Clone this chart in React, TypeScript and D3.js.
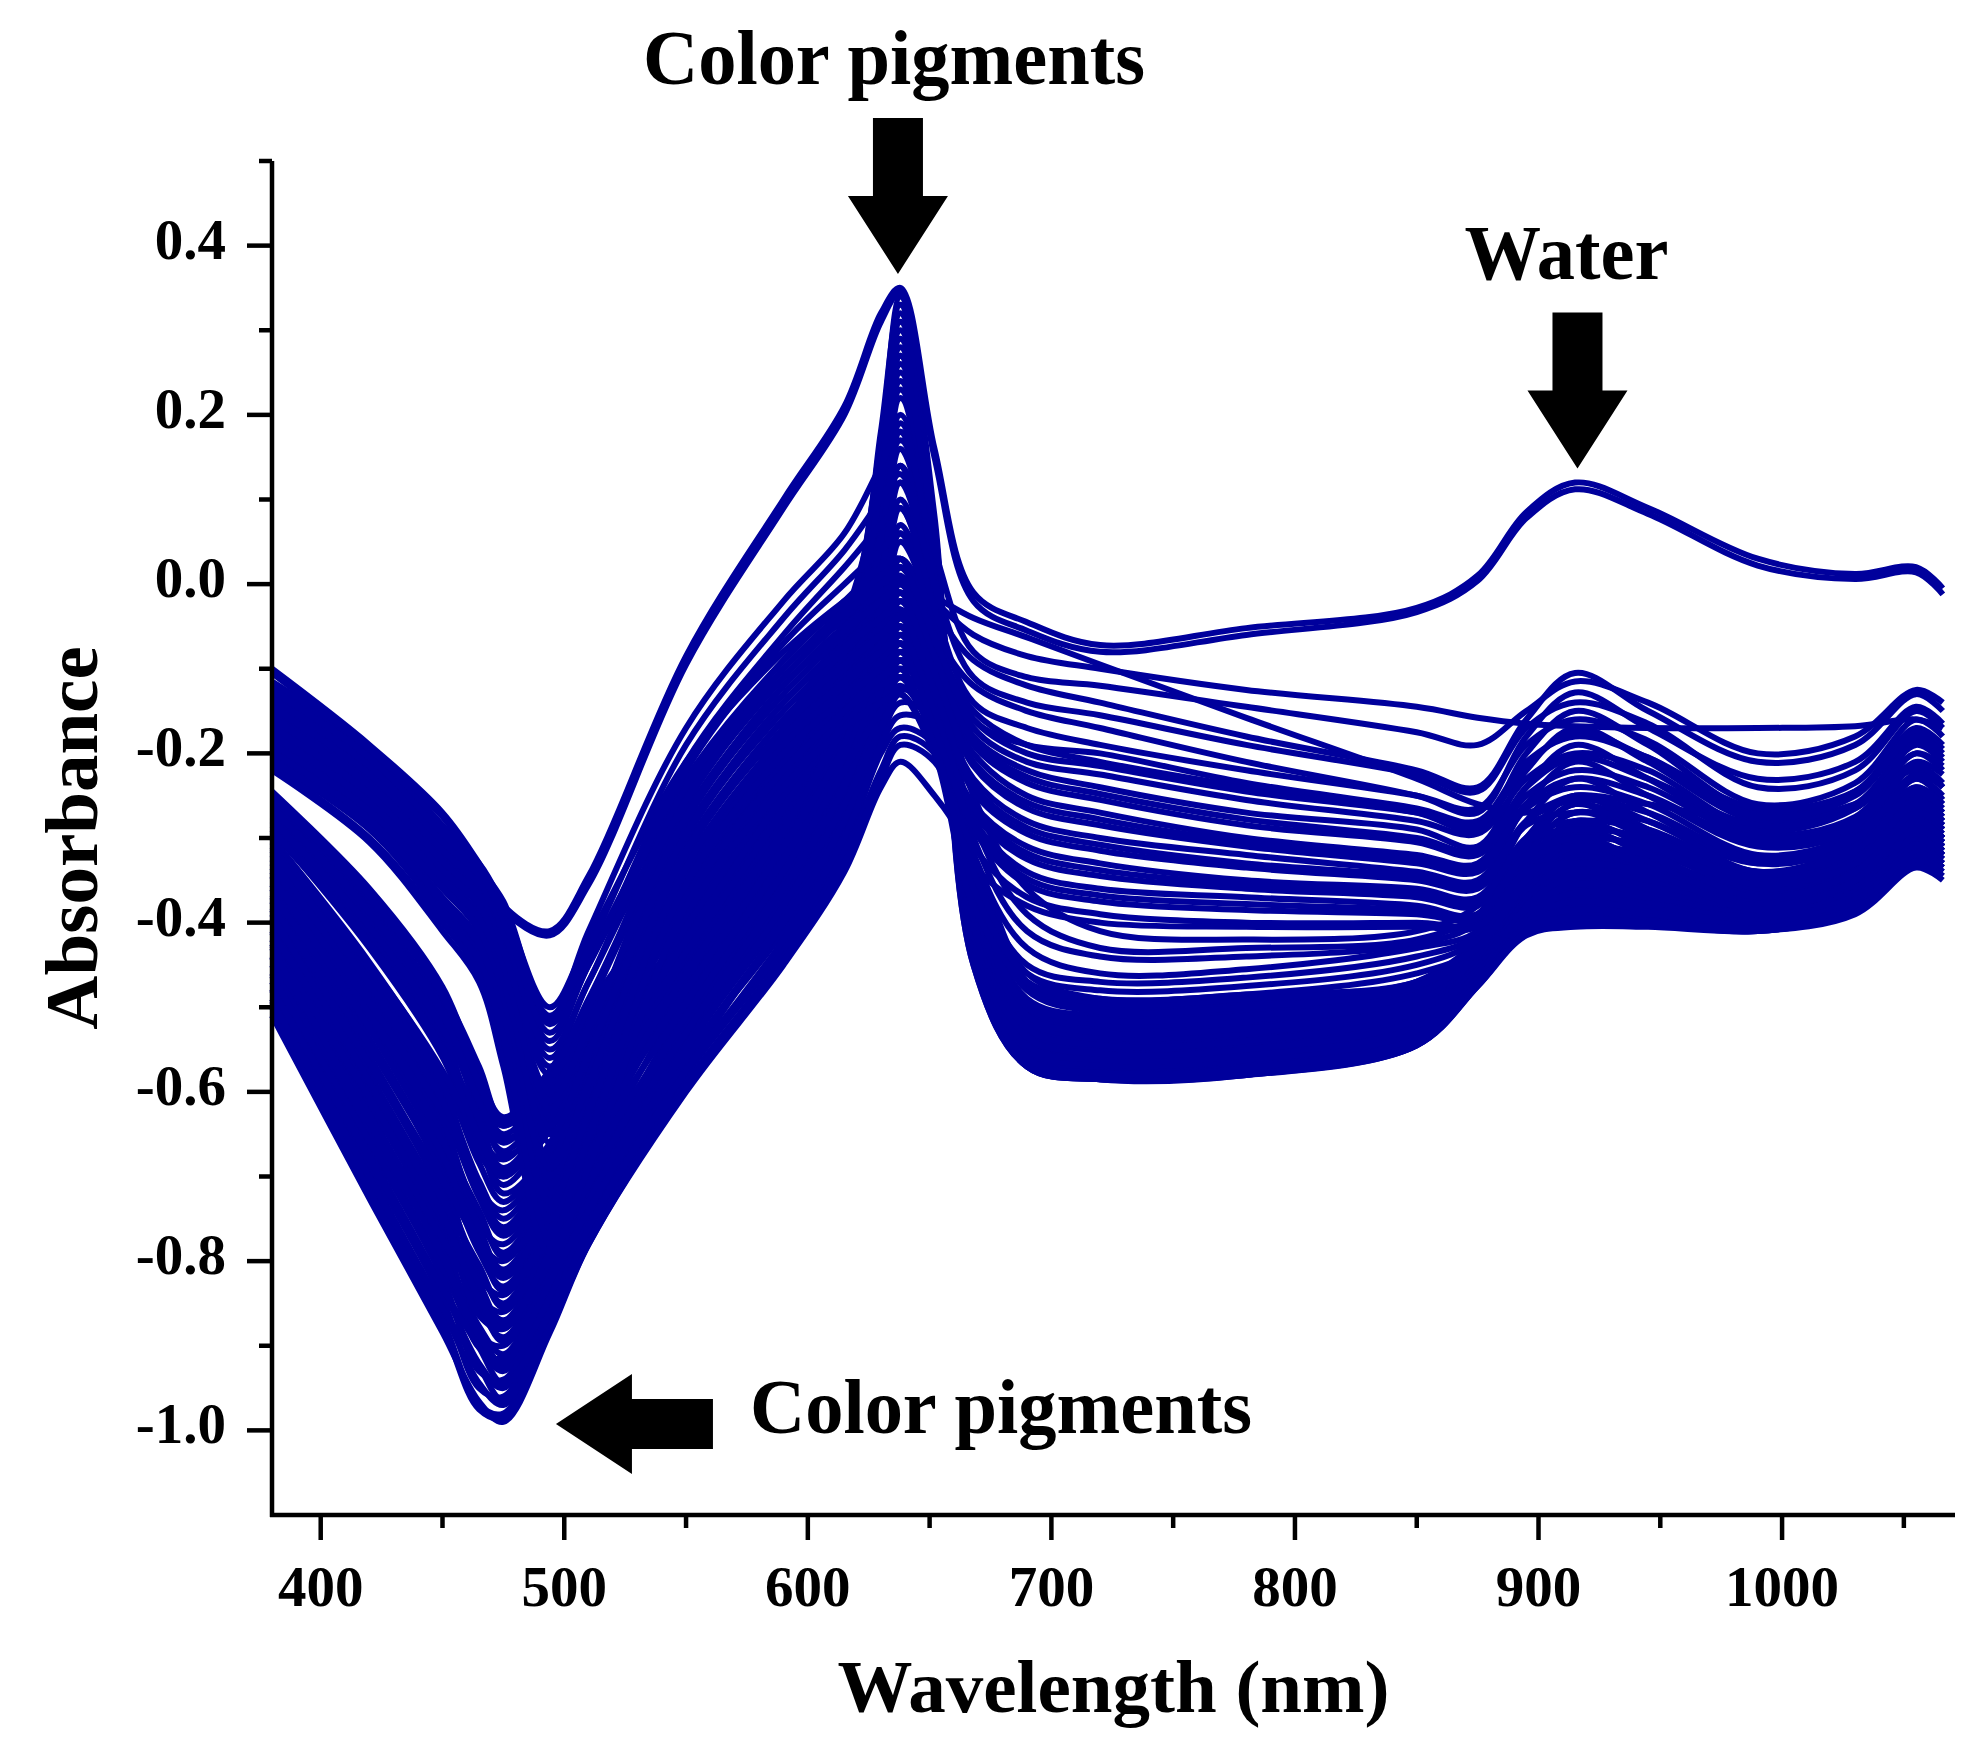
import React from 'react';
import * as d3 from 'd3';

// sampling wavelengths (nm) shared by every spectrum
const wavelengths = [380, 420, 450, 465, 475, 494, 510, 550, 590, 615, 630, 638, 652, 668, 690, 720, 780, 850, 875, 895, 915, 945, 990, 1030, 1055, 1066];

// the two spectra with the strong water band
const waterSpectra = [
  [-0.10, -0.19, -0.27, -0.33, -0.38, -0.41, -0.345, -0.085, 0.10, 0.21, 0.32, 0.35, 0.16, -0.01, -0.045, -0.072, -0.052, -0.028, 0.01, 0.085, 0.12, 0.09, 0.03, 0.012, 0.02, -0.005],
  [-0.105, -0.195, -0.275, -0.335, -0.385, -0.415, -0.355, -0.095, 0.09, 0.2, 0.31, 0.345, 0.15, -0.02, -0.055, -0.08, -0.06, -0.033, 0.004, 0.078, 0.112, 0.083, 0.022, 0.006, 0.014, -0.012],
];

// upper band at the blue end
const upperSpectra = [
  [-0.12, -0.20, -0.29, -0.33, -0.38, -0.50, -0.42, -0.21, -0.08, -0.02, 0.01, 0.02, -0.02, -0.06, -0.085, -0.10, -0.125, -0.145, -0.158, -0.165, -0.168, -0.17, -0.17, -0.168, -0.16, -0.17],
  [-0.13, -0.21, -0.30, -0.34, -0.39, -0.52, -0.44, -0.23, -0.09, -0.025, 0.0, 0.005, -0.015, -0.04, -0.063, -0.095, -0.158, -0.23, -0.26, -0.27, -0.25, -0.26, -0.28, -0.26, -0.22, -0.24],
  [-0.14, -0.22, -0.31, -0.35, -0.41, -0.54, -0.45, -0.24, -0.10, -0.03, 0.01, 0.03, -0.03, -0.09, -0.12, -0.14, -0.18, -0.22, -0.24, -0.16, -0.105, -0.15, -0.21, -0.19, -0.13, -0.15],
  [-0.15, -0.23, -0.32, -0.36, -0.42, -0.56, -0.47, -0.25, -0.11, -0.04, -0.01, 0.0, -0.06, -0.12, -0.15, -0.17, -0.21, -0.25, -0.27, -0.18, -0.128, -0.17, -0.23, -0.21, -0.145, -0.165],
  [-0.16, -0.24, -0.33, -0.37, -0.44, -0.60, -0.50, -0.27, -0.12, -0.05, -0.02, -0.01, -0.07, -0.15, -0.19, -0.21, -0.24, -0.27, -0.29, -0.20, -0.15, -0.19, -0.27, -0.245, -0.17, -0.19],
  [-0.17, -0.25, -0.34, -0.38, -0.46, -0.64, -0.53, -0.29, -0.14, -0.07, -0.04, -0.03, -0.09, -0.18, -0.22, -0.24, -0.27, -0.29, -0.31, -0.22, -0.17, -0.21, -0.28, -0.26, -0.185, -0.205],
  [-0.18, -0.26, -0.35, -0.40, -0.48, -0.68, -0.56, -0.31, -0.16, -0.09, -0.06, -0.05, -0.11, -0.20, -0.25, -0.27, -0.30, -0.32, -0.33, -0.24, -0.19, -0.23, -0.295, -0.275, -0.20, -0.22],
  [-0.19, -0.27, -0.36, -0.41, -0.50, -0.71, -0.59, -0.33, -0.18, -0.11, -0.08, -0.07, -0.13, -0.23, -0.28, -0.30, -0.32, -0.34, -0.35, -0.26, -0.21, -0.25, -0.31, -0.29, -0.215, -0.24],
  [-0.20, -0.28, -0.38, -0.43, -0.52, -0.74, -0.62, -0.35, -0.20, -0.13, -0.10, -0.09, -0.16, -0.26, -0.31, -0.33, -0.35, -0.36, -0.37, -0.28, -0.23, -0.27, -0.33, -0.305, -0.23, -0.255],
  [-0.21, -0.29, -0.39, -0.45, -0.54, -0.76, -0.64, -0.37, -0.22, -0.15, -0.12, -0.11, -0.18, -0.28, -0.34, -0.36, -0.37, -0.38, -0.39, -0.30, -0.25, -0.29, -0.345, -0.32, -0.25, -0.27],
  [-0.215, -0.30, -0.40, -0.46, -0.56, -0.78, -0.66, -0.39, -0.24, -0.17, -0.14, -0.13, -0.20, -0.31, -0.37, -0.39, -0.40, -0.40, -0.40, -0.31, -0.26, -0.30, -0.36, -0.33, -0.265, -0.285],
];

// more spectra of the upper band (higher peaks, middle stripes)
const upperSpectra2 = [
  [-0.115, -0.195, -0.285, -0.335, -0.375, -0.515, -0.41, -0.17, -0.02, 0.06, 0.14, 0.18, 0.04, -0.08, -0.11, -0.12, -0.145, -0.175, -0.19, -0.15, -0.115, -0.14, -0.20, -0.18, -0.125, -0.14],
  [-0.125, -0.205, -0.295, -0.34, -0.385, -0.51, -0.43, -0.19, -0.04, 0.04, 0.10, 0.13, 0.0, -0.11, -0.14, -0.155, -0.19, -0.225, -0.245, -0.17, -0.14, -0.165, -0.24, -0.22, -0.15, -0.17],
  [-0.135, -0.215, -0.305, -0.345, -0.40, -0.53, -0.45, -0.21, -0.06, 0.02, 0.07, 0.09, -0.03, -0.14, -0.17, -0.19, -0.22, -0.25, -0.265, -0.19, -0.16, -0.185, -0.26, -0.235, -0.16, -0.18],
  [-0.145, -0.225, -0.315, -0.355, -0.415, -0.55, -0.47, -0.22, -0.07, 0.0, 0.04, 0.06, -0.05, -0.16, -0.19, -0.20, -0.235, -0.265, -0.28, -0.21, -0.18, -0.205, -0.275, -0.25, -0.175, -0.195],
  [-0.155, -0.235, -0.325, -0.365, -0.43, -0.58, -0.50, -0.24, -0.09, -0.02, 0.02, 0.03, -0.06, -0.17, -0.21, -0.225, -0.255, -0.28, -0.295, -0.23, -0.20, -0.22, -0.29, -0.265, -0.19, -0.21],
  [-0.165, -0.245, -0.335, -0.375, -0.45, -0.62, -0.53, -0.26, -0.11, -0.04, 0.0, 0.01, -0.08, -0.19, -0.235, -0.255, -0.285, -0.305, -0.32, -0.25, -0.22, -0.24, -0.30, -0.28, -0.21, -0.225],
  [-0.175, -0.255, -0.345, -0.39, -0.47, -0.66, -0.56, -0.28, -0.13, -0.06, -0.02, -0.01, -0.10, -0.215, -0.265, -0.285, -0.31, -0.33, -0.34, -0.265, -0.24, -0.26, -0.32, -0.295, -0.225, -0.24],
  [-0.185, -0.265, -0.355, -0.405, -0.49, -0.70, -0.60, -0.30, -0.15, -0.08, -0.04, -0.03, -0.12, -0.245, -0.295, -0.315, -0.335, -0.35, -0.36, -0.285, -0.27, -0.28, -0.34, -0.31, -0.24, -0.26],
  [-0.195, -0.275, -0.37, -0.42, -0.51, -0.72, -0.62, -0.32, -0.17, -0.10, -0.06, -0.05, -0.14, -0.27, -0.325, -0.345, -0.36, -0.37, -0.38, -0.305, -0.29, -0.30, -0.35, -0.325, -0.255, -0.275],
  [-0.205, -0.285, -0.385, -0.44, -0.53, -0.75, -0.65, -0.34, -0.19, -0.12, -0.08, -0.07, -0.16, -0.29, -0.355, -0.375, -0.385, -0.39, -0.395, -0.325, -0.31, -0.32, -0.37, -0.34, -0.27, -0.285],
  [-0.22, -0.305, -0.41, -0.47, -0.57, -0.79, -0.69, -0.38, -0.22, -0.15, -0.11, -0.10, -0.19, -0.33, -0.38, -0.40, -0.405, -0.405, -0.405, -0.34, -0.33, -0.34, -0.385, -0.35, -0.28, -0.30],
];

// upper-band spectra with intermediate dips
const upperSpectra3 = [
  [-0.158, -0.238, -0.328, -0.368, -0.435, -0.57, -0.49, -0.255, -0.10, -0.035, 0.0, 0.02, -0.065, -0.16, -0.20, -0.215, -0.245, -0.27, -0.285, -0.215, -0.175, -0.205, -0.265, -0.245, -0.18, -0.20],
  [-0.168, -0.248, -0.338, -0.378, -0.455, -0.61, -0.525, -0.275, -0.12, -0.055, -0.02, 0.0, -0.085, -0.185, -0.228, -0.248, -0.278, -0.30, -0.315, -0.24, -0.205, -0.23, -0.285, -0.265, -0.20, -0.215],
  [-0.178, -0.258, -0.348, -0.395, -0.475, -0.65, -0.555, -0.295, -0.14, -0.075, -0.04, -0.02, -0.105, -0.21, -0.258, -0.278, -0.305, -0.325, -0.335, -0.26, -0.23, -0.25, -0.305, -0.285, -0.215, -0.235],
  [-0.188, -0.268, -0.358, -0.408, -0.495, -0.69, -0.59, -0.315, -0.16, -0.095, -0.06, -0.04, -0.125, -0.238, -0.288, -0.308, -0.33, -0.345, -0.355, -0.28, -0.255, -0.27, -0.325, -0.30, -0.23, -0.25],
  [-0.198, -0.278, -0.375, -0.425, -0.515, -0.73, -0.625, -0.335, -0.18, -0.115, -0.08, -0.06, -0.15, -0.265, -0.318, -0.338, -0.355, -0.365, -0.375, -0.30, -0.28, -0.29, -0.34, -0.315, -0.245, -0.265],
  [-0.208, -0.288, -0.39, -0.445, -0.535, -0.77, -0.655, -0.355, -0.20, -0.135, -0.10, -0.08, -0.17, -0.285, -0.348, -0.368, -0.378, -0.385, -0.39, -0.32, -0.30, -0.31, -0.355, -0.33, -0.26, -0.28],
];

// middle stripes of the red / NIR plateau
const middleSpectra = [
  [-0.25, -0.369, -0.486, -0.59, -0.64, -0.584, -0.51, -0.35, -0.20, -0.10, -0.03, -0.01, -0.08, -0.25, -0.36, -0.41, -0.42, -0.41, -0.38, -0.30, -0.25, -0.28, -0.33, -0.30, -0.24, -0.26],
  [-0.265, -0.388, -0.508, -0.611, -0.66, -0.60, -0.53, -0.37, -0.21, -0.11, -0.05, -0.03, -0.10, -0.28, -0.39, -0.43, -0.43, -0.42, -0.39, -0.31, -0.26, -0.29, -0.34, -0.31, -0.25, -0.27],
  [-0.29, -0.425, -0.55, -0.653, -0.70, -0.635, -0.56, -0.39, -0.23, -0.13, -0.07, -0.05, -0.12, -0.30, -0.41, -0.44, -0.44, -0.425, -0.40, -0.32, -0.27, -0.30, -0.35, -0.32, -0.26, -0.28],
  [-0.315, -0.473, -0.611, -0.715, -0.76, -0.687, -0.60, -0.42, -0.25, -0.15, -0.09, -0.07, -0.14, -0.32, -0.43, -0.46, -0.455, -0.43, -0.41, -0.33, -0.28, -0.31, -0.36, -0.33, -0.27, -0.29],
  [-0.345, -0.525, -0.675, -0.778, -0.82, -0.739, -0.65, -0.46, -0.29, -0.17, -0.11, -0.09, -0.16, -0.34, -0.45, -0.47, -0.465, -0.44, -0.415, -0.34, -0.29, -0.32, -0.37, -0.34, -0.28, -0.30],
  [-0.39, -0.588, -0.745, -0.844, -0.88, -0.79, -0.71, -0.51, -0.34, -0.22, -0.15, -0.12, -0.18, -0.36, -0.46, -0.48, -0.475, -0.45, -0.42, -0.345, -0.30, -0.33, -0.375, -0.345, -0.285, -0.305],
  [-0.43, -0.636, -0.795, -0.888, -0.92, -0.825, -0.74, -0.55, -0.38, -0.26, -0.17, -0.13, -0.20, -0.38, -0.47, -0.49, -0.485, -0.46, -0.43, -0.35, -0.305, -0.335, -0.38, -0.35, -0.29, -0.31],
];

// deep blue-dip spectra that fill the lower plateau
const lowerSpectra = [
  [-0.245, -0.36, -0.476, -0.58, -0.63, -0.575, -0.50, -0.34, -0.17, -0.05, 0.08, 0.14, 0.02, -0.36, -0.50, -0.52, -0.51, -0.47, -0.42, -0.33, -0.28, -0.31, -0.36, -0.33, -0.27, -0.29],
  [-0.26, -0.38, -0.498, -0.601, -0.65, -0.592, -0.52, -0.36, -0.19, -0.07, 0.06, 0.12, 0.0, -0.38, -0.52, -0.535, -0.52, -0.48, -0.43, -0.34, -0.29, -0.32, -0.37, -0.34, -0.28, -0.30],
  [-0.27, -0.397, -0.518, -0.622, -0.67, -0.609, -0.54, -0.37, -0.20, -0.08, 0.10, 0.20, 0.04, -0.40, -0.53, -0.545, -0.53, -0.49, -0.44, -0.35, -0.30, -0.33, -0.375, -0.345, -0.285, -0.305],
  [-0.28, -0.413, -0.538, -0.642, -0.69, -0.627, -0.55, -0.38, -0.21, -0.09, 0.12, 0.25, 0.05, -0.41, -0.54, -0.555, -0.54, -0.50, -0.45, -0.36, -0.31, -0.34, -0.38, -0.35, -0.29, -0.31],
  [-0.29, -0.43, -0.559, -0.663, -0.71, -0.644, -0.56, -0.39, -0.22, -0.10, 0.15, 0.30, 0.06, -0.42, -0.55, -0.565, -0.555, -0.51, -0.455, -0.37, -0.32, -0.35, -0.385, -0.355, -0.295, -0.315],
  [-0.30, -0.447, -0.58, -0.684, -0.73, -0.661, -0.58, -0.40, -0.23, -0.11, 0.18, 0.33, 0.07, -0.43, -0.56, -0.575, -0.565, -0.52, -0.46, -0.38, -0.34, -0.36, -0.39, -0.36, -0.30, -0.32],
  [-0.31, -0.464, -0.60, -0.705, -0.75, -0.678, -0.60, -0.42, -0.24, -0.12, 0.14, 0.28, 0.05, -0.44, -0.565, -0.58, -0.57, -0.53, -0.465, -0.39, -0.36, -0.375, -0.395, -0.365, -0.31, -0.33],
  [-0.32, -0.481, -0.622, -0.725, -0.77, -0.696, -0.61, -0.43, -0.26, -0.14, 0.08, 0.22, 0.03, -0.45, -0.57, -0.585, -0.575, -0.545, -0.47, -0.41, -0.40, -0.40, -0.41, -0.385, -0.33, -0.345],
  [-0.33, -0.499, -0.643, -0.747, -0.79, -0.713, -0.62, -0.44, -0.27, -0.15, 0.04, 0.16, 0.01, -0.44, -0.565, -0.58, -0.58, -0.545, -0.475, -0.415, -0.405, -0.405, -0.41, -0.39, -0.335, -0.35],
  [-0.34, -0.516, -0.664, -0.768, -0.81, -0.73, -0.64, -0.45, -0.28, -0.16, 0.0, 0.10, -0.02, -0.43, -0.56, -0.575, -0.57, -0.535, -0.47, -0.405, -0.39, -0.395, -0.405, -0.38, -0.325, -0.34],
  [-0.355, -0.537, -0.688, -0.789, -0.83, -0.747, -0.66, -0.47, -0.30, -0.18, -0.04, 0.06, -0.04, -0.42, -0.55, -0.57, -0.565, -0.53, -0.465, -0.40, -0.38, -0.39, -0.40, -0.375, -0.32, -0.335],
  [-0.37, -0.558, -0.711, -0.811, -0.85, -0.765, -0.68, -0.49, -0.32, -0.20, -0.07, 0.02, -0.06, -0.40, -0.54, -0.56, -0.555, -0.52, -0.46, -0.395, -0.37, -0.385, -0.40, -0.37, -0.315, -0.33],
  [-0.385, -0.579, -0.734, -0.833, -0.87, -0.782, -0.70, -0.50, -0.33, -0.21, -0.10, -0.02, -0.08, -0.39, -0.53, -0.55, -0.545, -0.51, -0.455, -0.385, -0.355, -0.375, -0.395, -0.365, -0.31, -0.325],
  [-0.40, -0.60, -0.758, -0.855, -0.89, -0.80, -0.72, -0.52, -0.35, -0.23, -0.12, -0.05, -0.10, -0.38, -0.52, -0.54, -0.535, -0.50, -0.45, -0.375, -0.345, -0.37, -0.39, -0.36, -0.305, -0.32],
  [-0.42, -0.624, -0.783, -0.877, -0.91, -0.816, -0.74, -0.54, -0.37, -0.25, -0.14, -0.08, -0.12, -0.37, -0.51, -0.53, -0.525, -0.495, -0.445, -0.37, -0.335, -0.36, -0.385, -0.355, -0.30, -0.315],
  [-0.44, -0.648, -0.808, -0.899, -0.93, -0.833, -0.75, -0.55, -0.39, -0.27, -0.16, -0.11, -0.14, -0.36, -0.50, -0.52, -0.515, -0.49, -0.44, -0.365, -0.325, -0.355, -0.38, -0.35, -0.295, -0.31],
  [-0.46, -0.672, -0.832, -0.921, -0.95, -0.85, -0.76, -0.56, -0.41, -0.29, -0.18, -0.14, -0.16, -0.35, -0.49, -0.51, -0.505, -0.485, -0.435, -0.36, -0.315, -0.345, -0.375, -0.345, -0.29, -0.305],
  [-0.48, -0.697, -0.857, -0.944, -0.97, -0.868, -0.77, -0.58, -0.43, -0.31, -0.20, -0.17, -0.19, -0.33, -0.47, -0.50, -0.495, -0.48, -0.43, -0.355, -0.31, -0.34, -0.37, -0.34, -0.285, -0.30],
  [-0.51, -0.726, -0.884, -0.966, -0.99, -0.885, -0.78, -0.60, -0.45, -0.34, -0.24, -0.21, -0.25, -0.32, -0.46, -0.49, -0.485, -0.47, -0.425, -0.35, -0.30, -0.335, -0.36, -0.335, -0.28, -0.295],
];

// further lower-band spectra interleaved with the ones above
const lowerSpectra2 = [
  [-0.255, -0.372, -0.488, -0.611, -0.64, -0.584, -0.51, -0.34, -0.17, -0.04, 0.12, 0.24, 0.05, -0.40, -0.53, -0.55, -0.54, -0.50, -0.44, -0.36, -0.31, -0.335, -0.38, -0.35, -0.29, -0.31],
  [-0.275, -0.405, -0.528, -0.652, -0.68, -0.618, -0.545, -0.37, -0.19, -0.06, 0.16, 0.31, 0.07, -0.42, -0.55, -0.57, -0.56, -0.52, -0.455, -0.375, -0.33, -0.35, -0.39, -0.36, -0.30, -0.32],
  [-0.285, -0.422, -0.549, -0.673, -0.70, -0.635, -0.555, -0.38, -0.20, -0.07, 0.17, 0.34, 0.08, -0.43, -0.56, -0.58, -0.57, -0.53, -0.46, -0.385, -0.345, -0.365, -0.395, -0.365, -0.305, -0.325],
  [-0.305, -0.455, -0.59, -0.714, -0.74, -0.67, -0.59, -0.41, -0.23, -0.10, 0.13, 0.32, 0.06, -0.44, -0.565, -0.585, -0.58, -0.54, -0.47, -0.40, -0.38, -0.385, -0.40, -0.375, -0.32, -0.335],
  [-0.325, -0.49, -0.632, -0.756, -0.78, -0.704, -0.615, -0.43, -0.25, -0.12, 0.10, 0.27, 0.04, -0.45, -0.57, -0.585, -0.58, -0.545, -0.475, -0.41, -0.395, -0.40, -0.41, -0.385, -0.33, -0.345],
  [-0.335, -0.508, -0.654, -0.777, -0.80, -0.721, -0.63, -0.44, -0.26, -0.13, 0.06, 0.19, 0.02, -0.44, -0.565, -0.58, -0.575, -0.54, -0.47, -0.405, -0.395, -0.40, -0.405, -0.38, -0.325, -0.34],
  [-0.36, -0.546, -0.698, -0.82, -0.84, -0.756, -0.67, -0.47, -0.29, -0.16, 0.02, 0.14, -0.01, -0.43, -0.555, -0.57, -0.565, -0.53, -0.465, -0.40, -0.385, -0.39, -0.40, -0.375, -0.32, -0.335],
  [-0.375, -0.567, -0.722, -0.842, -0.86, -0.773, -0.69, -0.48, -0.30, -0.17, -0.02, 0.09, -0.03, -0.42, -0.545, -0.565, -0.56, -0.525, -0.46, -0.395, -0.375, -0.385, -0.40, -0.37, -0.315, -0.33],
  [-0.395, -0.591, -0.747, -0.864, -0.88, -0.79, -0.71, -0.50, -0.32, -0.19, -0.05, 0.05, -0.05, -0.41, -0.535, -0.555, -0.55, -0.515, -0.455, -0.39, -0.365, -0.38, -0.395, -0.365, -0.31, -0.325],
  [-0.41, -0.612, -0.77, -0.886, -0.90, -0.808, -0.73, -0.52, -0.34, -0.21, -0.08, 0.0, -0.07, -0.40, -0.525, -0.545, -0.54, -0.505, -0.45, -0.38, -0.355, -0.375, -0.39, -0.36, -0.305, -0.32],
  [-0.425, -0.63, -0.789, -0.902, -0.915, -0.82, -0.74, -0.53, -0.36, -0.23, -0.11, -0.04, -0.09, -0.39, -0.515, -0.535, -0.53, -0.50, -0.445, -0.375, -0.345, -0.37, -0.385, -0.355, -0.30, -0.315],
  [-0.45, -0.66, -0.82, -0.93, -0.94, -0.842, -0.755, -0.55, -0.38, -0.25, -0.13, -0.07, -0.11, -0.37, -0.505, -0.525, -0.52, -0.49, -0.44, -0.37, -0.335, -0.36, -0.38, -0.35, -0.295, -0.31],
  [-0.47, -0.685, -0.845, -0.95, -0.96, -0.859, -0.765, -0.57, -0.40, -0.28, -0.15, -0.10, -0.13, -0.35, -0.495, -0.515, -0.51, -0.48, -0.435, -0.36, -0.325, -0.35, -0.375, -0.345, -0.29, -0.305],
  [-0.49, -0.709, -0.87, -0.97, -0.98, -0.876, -0.775, -0.59, -0.44, -0.32, -0.22, -0.18, -0.20, -0.33, -0.475, -0.50, -0.49, -0.475, -0.43, -0.355, -0.31, -0.34, -0.365, -0.335, -0.28, -0.295],
  [-0.50, -0.717, -0.877, -0.975, -0.985, -0.88, -0.78, -0.595, -0.445, -0.33, -0.23, -0.19, -0.21, -0.325, -0.47, -0.495, -0.49, -0.47, -0.425, -0.35, -0.305, -0.335, -0.36, -0.33, -0.275, -0.29],
];

// lower-band spectra with intermediate dip depths
const lowerSpectra3 = [
  [-0.249, -0.366, -0.482, -0.57, -0.635, -0.594, -0.504, -0.345, -0.18, -0.06, 0.09, 0.17, 0.03, -0.38, -0.51, -0.53, -0.525, -0.485, -0.43, -0.32, -0.27, -0.295, -0.345, -0.315, -0.255, -0.275],
  [-0.263, -0.385, -0.503, -0.591, -0.655, -0.612, -0.52, -0.365, -0.195, -0.07, 0.13, 0.27, 0.05, -0.41, -0.545, -0.56, -0.55, -0.51, -0.445, -0.34, -0.285, -0.305, -0.35, -0.32, -0.26, -0.28],
  [-0.278, -0.405, -0.525, -0.612, -0.675, -0.629, -0.535, -0.375, -0.205, -0.08, 0.11, 0.23, 0.04, -0.42, -0.555, -0.57, -0.56, -0.52, -0.45, -0.35, -0.295, -0.315, -0.355, -0.325, -0.265, -0.285],
  [-0.293, -0.424, -0.547, -0.633, -0.695, -0.646, -0.55, -0.385, -0.215, -0.09, 0.14, 0.29, 0.06, -0.43, -0.565, -0.58, -0.57, -0.535, -0.46, -0.36, -0.31, -0.325, -0.36, -0.33, -0.27, -0.29],
  [-0.312, -0.45, -0.575, -0.66, -0.72, -0.668, -0.57, -0.405, -0.23, -0.105, 0.12, 0.26, 0.05, -0.44, -0.57, -0.585, -0.578, -0.54, -0.47, -0.375, -0.33, -0.345, -0.37, -0.34, -0.28, -0.30],
  [-0.345, -0.495, -0.625, -0.708, -0.765, -0.706, -0.605, -0.435, -0.265, -0.135, 0.05, 0.18, 0.01, -0.435, -0.56, -0.578, -0.572, -0.535, -0.465, -0.385, -0.35, -0.36, -0.38, -0.35, -0.29, -0.31],
  [-0.367, -0.525, -0.659, -0.74, -0.795, -0.732, -0.63, -0.455, -0.285, -0.155, 0.01, 0.12, -0.02, -0.425, -0.55, -0.568, -0.562, -0.528, -0.46, -0.39, -0.365, -0.37, -0.385, -0.355, -0.30, -0.32],
  [-0.382, -0.545, -0.682, -0.761, -0.815, -0.749, -0.645, -0.465, -0.295, -0.165, -0.03, 0.07, -0.04, -0.415, -0.545, -0.562, -0.557, -0.522, -0.455, -0.385, -0.355, -0.365, -0.38, -0.35, -0.295, -0.315],
  [-0.397, -0.566, -0.704, -0.783, -0.835, -0.767, -0.66, -0.48, -0.31, -0.19, -0.06, 0.03, -0.055, -0.405, -0.535, -0.555, -0.55, -0.515, -0.455, -0.38, -0.345, -0.36, -0.38, -0.35, -0.29, -0.31],
  [-0.412, -0.587, -0.728, -0.805, -0.855, -0.784, -0.675, -0.495, -0.325, -0.205, -0.085, -0.01, -0.07, -0.395, -0.525, -0.545, -0.54, -0.505, -0.45, -0.37, -0.34, -0.355, -0.375, -0.345, -0.29, -0.305],
  [-0.427, -0.607, -0.751, -0.826, -0.875, -0.801, -0.69, -0.51, -0.34, -0.22, -0.105, -0.035, -0.085, -0.385, -0.515, -0.535, -0.53, -0.50, -0.445, -0.37, -0.335, -0.35, -0.37, -0.34, -0.285, -0.30],
  [-0.441, -0.627, -0.774, -0.848, -0.895, -0.818, -0.705, -0.53, -0.36, -0.24, -0.125, -0.06, -0.10, -0.375, -0.51, -0.53, -0.525, -0.495, -0.44, -0.365, -0.33, -0.345, -0.37, -0.34, -0.285, -0.30],
  [-0.463, -0.658, -0.808, -0.88, -0.925, -0.844, -0.73, -0.545, -0.38, -0.26, -0.15, -0.09, -0.125, -0.365, -0.50, -0.52, -0.515, -0.49, -0.44, -0.36, -0.32, -0.34, -0.365, -0.335, -0.28, -0.295],
  [-0.478, -0.679, -0.832, -0.902, -0.945, -0.861, -0.745, -0.56, -0.40, -0.28, -0.17, -0.125, -0.15, -0.355, -0.495, -0.515, -0.51, -0.485, -0.435, -0.36, -0.315, -0.335, -0.36, -0.33, -0.275, -0.29],
  [-0.493, -0.701, -0.855, -0.924, -0.965, -0.878, -0.76, -0.575, -0.42, -0.30, -0.19, -0.155, -0.17, -0.34, -0.48, -0.505, -0.50, -0.475, -0.43, -0.355, -0.31, -0.33, -0.355, -0.325, -0.27, -0.285],
];

const xMajorTicks = [400, 500, 600, 700, 800, 900, 1000];
const xMinorTicks = [450, 550, 650, 750, 850, 950, 1050];
const yMajorTicks = [-1.0, -0.8, -0.6, -0.4, -0.2, 0.0, 0.2, 0.4];
const yMinorTicks = [-0.9, -0.7, -0.5, -0.3, -0.1, 0.1, 0.3, 0.5];

// arrow annotations: label, wavelength and absorbance the arrow points at
const annotations = [
  { label: 'Color pigments', wl: 637, abs: 0.35, dir: 'down' },
  { label: 'Water', wl: 916, abs: 0.12, dir: 'down' },
  { label: 'Color pigments', wl: 474, abs: -0.99, dir: 'left' },
];

const FONT = "'Liberation Serif', 'Times New Roman', serif";
const BLUE = '#00009c';

export default function App() {
  const left = 272, right = 1955, top = 161, bottom = 1515;
  const x = d3.scaleLinear().domain([380, 1071]).range([left, right]);
  const y = d3.scaleLinear().domain([-1.1, 0.5]).range([bottom, top]);

  const line = d3.line<number>()
    .x((_, i) => x(wavelengths[i]))
    .y((d) => y(d))
    .curve(d3.curveCatmullRom.alpha(0.5));

  const spectra = [
    ...lowerSpectra, ...lowerSpectra2, ...lowerSpectra3, ...middleSpectra,
    ...upperSpectra, ...upperSpectra2, ...upperSpectra3, ...waterSpectra,
  ];
  const labelWidth = (s: string) => (s === 'Water' ? 204 : 502);

  return (
    <svg width={1971} height={1748} style={{ position: 'absolute', left: 0, top: 0, background: '#fff' }}
      fontFamily={FONT} fontWeight="bold">
      <g fill="none" stroke={BLUE} strokeWidth={6} strokeLinejoin="round">
        {spectra.map((s, i) => <path key={i} d={line(s) || ''} />)}
      </g>

      {/* axes */}
      <g stroke="#000" strokeWidth={4.5}>
        <line x1={left} x2={left} y1={top} y2={bottom + 2} />
        <line x1={left - 2} x2={right} y1={bottom} y2={bottom} />
        {yMajorTicks.map((t) => <line key={'ym' + t} x1={left - 25} x2={left} y1={y(t)} y2={y(t)} />)}
        {yMinorTicks.map((t) => <line key={'yn' + t} x1={left - 13} x2={left} y1={y(t)} y2={y(t)} />)}
        {xMajorTicks.map((t) => <line key={'xm' + t} x1={x(t)} x2={x(t)} y1={bottom} y2={bottom + 25} />)}
        {xMinorTicks.map((t) => <line key={'xn' + t} x1={x(t)} x2={x(t)} y1={bottom} y2={bottom + 13} />)}
      </g>
      <g fontSize={57} fill="#000">
        {yMajorTicks.map((t) => (
          <text key={'yl' + t} x={left - 46} y={y(t) + 13} textAnchor="end">{t.toFixed(1)}</text>
        ))}
        {xMajorTicks.map((t) => (
          <text key={'xl' + t} x={x(t)} y={1606} textAnchor="middle">{t}</text>
        ))}
      </g>
      <text x={(left + right) / 2} y={1712} fontSize={75} textAnchor="middle">Wavelength (nm)</text>
      <text transform={`translate(97, ${(top + bottom) / 2}) rotate(-90)`} fontSize={75} textAnchor="middle">Absorbance</text>

      {/* annotations */}
      {annotations.map((a, i) => {
        if (a.dir === 'down') {
          const tx = x(a.wl);
          const ty = y(a.abs) - 14;
          const pts = [[tx - 25, ty - 156], [tx + 25, ty - 156], [tx + 25, ty - 78], [tx + 50, ty - 78], [tx, ty], [tx - 50, ty - 78], [tx - 25, ty - 78]];
          return (
            <g key={i}>
              <polygon points={pts.map((p) => p.join(',')).join(' ')} fill="#000" />
              <text x={tx - (a.label === 'Water' ? 11 : 4)} y={ty - 190} fontSize={78} textAnchor="middle"
                textLength={labelWidth(a.label)} lengthAdjust="spacingAndGlyphs">{a.label}</text>
            </g>
          );
        }
        const tx = x(a.wl) + 55;
        const ty = y(a.abs) + 2;
        const pts = [[tx, ty], [tx + 76, ty - 50], [tx + 76, ty - 25], [tx + 157, ty - 25], [tx + 157, ty + 25], [tx + 76, ty + 25], [tx + 76, ty + 50]];
        return (
          <g key={i}>
            <polygon points={pts.map((p) => p.join(',')).join(' ')} fill="#000" />
            <text x={tx + 194} y={ty + 9} fontSize={78} textLength={labelWidth(a.label)} lengthAdjust="spacingAndGlyphs">{a.label}</text>
          </g>
        );
      })}
    </svg>
  );
}
